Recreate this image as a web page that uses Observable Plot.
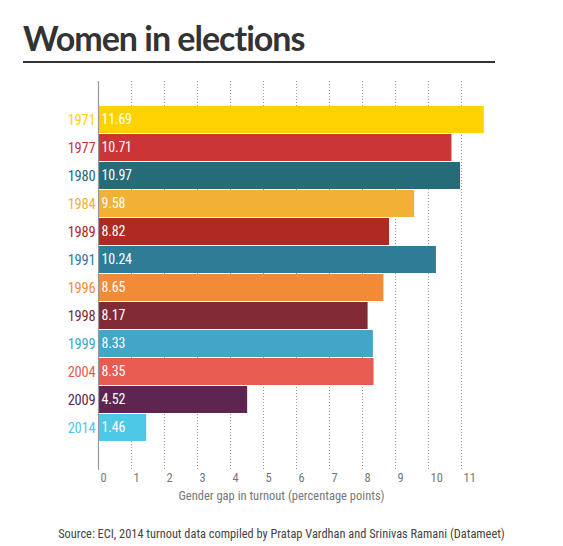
<!DOCTYPE html>
<html>
<head>
<meta charset="utf-8">
<script src="https://cdn.jsdelivr.net/npm/d3@7"></script>
<script src="https://cdn.jsdelivr.net/npm/@observablehq/plot@0.6"></script>
<style>
  body { margin: 0; background: #fff; width: 563px; height: 546px; position: relative; overflow: hidden; }
  #title { position: absolute; left: 23px; top: 18px; font-family: Lato, sans-serif; font-weight: 700; font-size: 34px; letter-spacing: -1px; color: #333; line-height: 40px; white-space: nowrap; }
  #rule { position: absolute; left: 23px; top: 61px; width: 472px; height: 2px; background: #333; }
  #chart { position: absolute; left: 0; top: 70px; }
  .narrow { font-family: "Roboto Condensed", "Liberation Sans Narrow", "Liberation Sans", sans-serif; }
  #xlabel { position: absolute; left: 0; width: 563px; top: 488px; text-align: center; font-size: 12.5px; color: #777; white-space: nowrap; }
  #caption { position: absolute; left: 0; width: 563px; top: 526px; text-align: center; font-size: 13px; color: #444; white-space: nowrap; transform: scaleX(0.95); transform-origin: 281px 0; }
  #chart svg g[aria-label="text"] text { letter-spacing: -0.2px; }
</style>
</head>
<body>
<div id="title">Women in elections</div>
<div id="rule"></div>
<div id="chart"></div>
<div id="xlabel" class="narrow">Gender gap in turnout (percentage points)</div>
<div id="caption" class="narrow">Source: ECI, 2014 turnout data compiled by Pratap Vardhan and Srinivas Ramani (Datameet)</div>
<script>
const years = ["1971", "1977", "1980", "1984", "1989", "1991", "1996", "1998", "1999", "2004", "2009", "2014"];
const gaps = [11.69, 10.71, 10.97, 9.58, 8.82, 10.24, 8.65, 8.17, 8.33, 8.35, 4.52, 1.46];
const colors = ["#FFD200", "#CC3535", "#266B78", "#F2B035", "#AF2A22", "#2E7C96", "#F28B35", "#812A36", "#42A6C9", "#E85B50", "#5E2550", "#4DC8E6"];
const ticks = [0, 1, 2, 3, 4, 5, 6, 7, 8, 9, 10, 11];

const data = years.map((year, i) => ({ year, gap: gaps[i], color: colors[i] }));
const narrow = "'Roboto Condensed', 'Liberation Sans Narrow', 'Liberation Sans', sans-serif";

const chart = Plot.plot({
  width: 563,
  height: 440,
  marginLeft: 98,
  marginRight: 69,
  marginTop: 11,
  marginBottom: 40,
  style: { fontFamily: narrow, fontSize: "12px", background: "transparent" },
  x: { domain: [0, 12] },
  y: { domain: years, range: [32, 375], paddingInner: 0.04, paddingOuter: 0, axis: null },
  color: { type: "identity" },
  marks: [
    Plot.ruleX(ticks.filter(t => t > 0), { stroke: "#999", strokeDasharray: "1,2", strokeWidth: 1 }),
    Plot.barX(data, { x: "gap", y: "year", fill: "color" }),
    Plot.ruleX([0], { stroke: "#999", strokeWidth: 1.2 }),
    Plot.axisX({ ticks, tickSize: 0, tickPadding: 3, textAnchor: "start", dx: 2, fill: "#777", label: null, fontSize: 12.5 }),
    Plot.text(data, { x: 0, y: "year", text: d => d.gap.toFixed(2), textAnchor: "start", dx: 3, fill: "white", fontSize: 14 }),
    Plot.text(data, { x: 0, y: "year", text: "year", textAnchor: "end", dx: -3, fill: "color", fontSize: 14.5 })
  ]
});
document.getElementById("chart").appendChild(chart);
</script>
</body>
</html>
